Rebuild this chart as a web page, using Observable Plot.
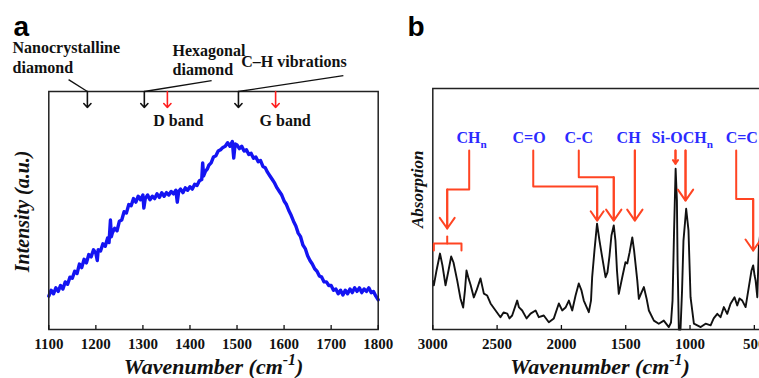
<!DOCTYPE html>
<html><head><meta charset="utf-8">
<script src="https://cdn.jsdelivr.net/npm/d3@7"></script>
<script src="https://cdn.jsdelivr.net/npm/@observablehq/plot@0.6"></script>
<style>
html,body{margin:0;padding:0;background:#fff;}
#wrap{position:relative;width:759px;height:378px;overflow:hidden;background:#fff;}
#pa,#pb{position:absolute;top:0;height:378px;}
#pa{left:0;width:400px;} #pb{left:400px;width:380px;}
#wrap svg{max-width:none !important;display:block;}
</style></head><body><div id="wrap"><div id="pa"></div><div id="pb"></div></div>
<script>
// ---- Panel a: Raman spectrum (wavenumber, intensity a.u.) ----
const ramanSpectrum = [
[1100,14.0],[1105,16.5],[1110,15.0],[1115,17.5],[1120,16.0],[1125,18.5],[1130,17.0],[1135,20.0],[1140,19.0],[1145,22.0],
[1150,21.5],[1155,24.5],[1160,23.5],[1165,27.5],[1170,26.0],[1175,29.5],[1180,28.0],[1185,31.5],[1190,30.5],[1195,33.5],
[1200,32.0],[1203,29.0],[1205,33.5],[1210,33.0],[1215,36.0],[1220,35.0],[1225,38.5],[1228,36.5],[1231,46.0],[1233,39.0],
[1235,40.5],[1240,42.5],[1245,41.5],[1250,45.5],[1255,46.0],[1260,49.5],[1265,49.0],[1270,52.5],[1275,52.0],[1280,55.0],
[1285,53.5],[1290,56.0],[1295,54.5],[1300,56.5],[1302,51.0],[1305,55.0],[1310,56.5],[1315,54.5],[1320,56.0],[1325,55.0],
[1330,57.0],[1335,55.5],[1340,57.5],[1345,56.0],[1350,57.5],[1355,56.5],[1360,58.0],[1365,57.0],[1370,58.5],[1373,53.5],
[1376,58.0],[1380,59.0],[1385,57.5],[1390,59.5],[1395,58.5],[1400,60.0],[1405,59.0],[1410,61.0],[1415,60.5],[1420,62.5],
[1425,63.0],[1427,70.0],[1429,64.5],[1433,66.5],[1437,67.5],[1440,69.0],[1445,70.0],[1450,72.5],[1455,73.0],[1460,75.0],
[1465,75.5],[1470,76.5],[1475,77.0],[1480,78.5],[1485,77.0],[1490,79.0],[1493,72.0],[1496,78.0],[1500,77.5],[1505,76.0],
[1510,77.0],[1515,75.0],[1520,75.5],[1525,73.5],[1530,74.0],[1535,72.0],[1540,72.5],[1545,70.5],[1550,71.0],[1555,68.5],
[1560,68.0],[1565,66.0],[1570,64.5],[1575,63.0],[1580,61.5],[1585,59.5],[1590,58.0],[1595,56.5],[1600,54.0],[1605,52.5],
[1610,50.0],[1615,48.0],[1620,45.5],[1625,43.5],[1630,40.5],[1635,39.0],[1640,35.5],[1645,34.0],[1650,31.0],[1655,29.0],
[1660,27.5],[1665,25.5],[1670,24.5],[1675,22.5],[1680,22.0],[1685,20.0],[1690,20.0],[1695,18.5],[1700,18.5],[1705,16.5],
[1710,17.0],[1715,15.0],[1720,16.5],[1725,14.5],[1730,16.5],[1735,15.0],[1740,17.0],[1745,15.5],[1750,17.5],[1755,16.0],
[1760,17.5],[1765,15.5],[1770,17.0],[1775,16.0],[1780,17.5],[1785,15.5],[1790,16.0],[1795,14.0],[1800,12.5]
];
const ramanTicks = [1100,1200,1300,1400,1500,1600,1700,1800];
// band markers (wavenumber) drawn as short arrows under the top frame
const ramanBlackMarkers = [1182, 1303, 1503];
const ramanRedMarkers = [1352, 1582];
// annotation labels: text, anchor wavenumber, anchor level (a.u.)
const ramanLabels = [
  {text:"Nanocrystalline", w:1023, a:116.0},
  {text:"diamond", w:1023, a:107.6},
  {text:"Hexagonal", w:1363, a:115.1},
  {text:"diamond", w:1363, a:107.1},
  {text:"C\u2013H vibrations", w:1509, a:110.1},
  {text:"D band", w:1322, a:85.7},
  {text:"G band", w:1548, a:85.7}
];
const ramanLeaders = [
  {w1:1142, a1:105.0, w2:1182, a2:100},
  {w1:1446, a1:104.6, w2:1303, a2:100},
  {w1:1726, a1:106.7, w2:1503, a2:100}
];

// ---- Panel b: FTIR absorption spectrum ----
const ftirSpectrum = [
[2995,20.0],[2992,18.3],[2971,24.5],[2944,31.5],[2925,26.6],[2901,18.3],[2878,24.5],[2857,30.3],[2839,27.8],[2810,20.3],
[2785,12.9],[2764,9.1],[2750,16.2],[2738,24.5],[2722,21.2],[2707,18.7],[2681,13.3],[2660,16.2],[2629,21.2],[2603,14.9],
[2577,14.1],[2551,10.8],[2512,7.9],[2474,5.1],[2450,7.1],[2421,6.6],[2404,4.6],[2383,5.8],[2344,12.0],[2331,9.3],
[2305,7.9],[2271,4.6],[2240,6.6],[2201,7.9],[2176,5.1],[2137,5.8],[2098,3.0],[2059,4.6],[2020,10.8],[1994,7.9],
[1968,9.1],[1942,12.0],[1916,7.9],[1890,14.1],[1865,19.1],[1844,16.2],[1826,12.0],[1787,7.2],[1770,12.0],[1761,21.7],
[1743,32.8],[1723,43.9],[1704,36.9],[1683,30.0],[1657,21.7],[1642,23.7],[1626,30.7],[1611,39.0],[1593,43.2],[1580,36.9],
[1568,24.5],[1554,14.8],[1540,18.3],[1527,21.7],[1502,27.9],[1488,27.4],[1470,32.0],[1449,38.2],[1435,32.8],[1410,20.3],
[1398,12.7],[1377,15.4],[1359,17.6],[1338,12.9],[1320,7.9],[1281,3.7],[1243,2.4],[1204,3.7],[1165,1.0],[1148,2.9],
[1136,12.0],[1124,41.1],[1112,66.7],[1102,53.5],[1097,28.6],[1087,0],[1074,0],[1062,16.2],[1051,36.9],[1030,50.1],
[1012,41.1],[996,13.4],[970,2.4],[917,1.0],[879,2.4],[840,1.7],[816,4.6],[788,6.5],[763,5.1],[737,9.3],
[711,6.5],[685,10.7],[654,13.4],[633,10.0],[615,12.9],[594,12.0],[568,9.3],[543,17.6],[522,24.5],[509,26.6],
[498,22.4],[490,20.3],[477,13.4],[465,34.1],[452,41.1],[436,47.3]
];
const ftirTicks = [3000,2500,2000,1500,1000,500];
// callouts: label text, text start wavenumber, leader path [wavenumber, absorption]
const ftirCallouts = [
  {label:"CH_{n}", tw:2816, path:[[2717,74.3],[2717,58.1],[2888,58.1],[2888,41.9]]},
  {label:"C=O", tw:2380, path:[[2219,74.3],[2219,59.3],[1722,59.3],[1722,45.2]]},
  {label:"C-C", tw:1976, path:[[1865,74.3],[1865,63.2],[1593,63.2],[1593,45.2]]},
  {label:"CH", tw:1571, path:[[1429,74.3],[1429,45.2]]},
  {label:"Si-OCH_{n}", tw:1299, path:[[1113,74.3],[1113,68.8]]},
  {label:null, tw:null, path:[[1035,74.3],[1035,53.5]]},
  {label:"C=C", tw:723, path:[[641,74.3],[641,54.2],[509,54.2],[509,32.8]]}
];
const ftirBracket = [
  [[2992,32.8],[2992,35.7],[2777,35.7],[2777,32.8]],
  [[2888,35.7],[2888,38.6]]
];
const labelLevel = 77.2;

const SERIF = "'Liberation Serif', 'Times New Roman', serif";
const SANS = "'Liberation Sans', Arial, sans-serif";
const RED_A = "#ff1d1d", RED_B = "#ff4422", BLUE_T = "#2b2bff", BLUE_L = "#1414f2";

const baseStyle = {fontFamily: SERIF, fontSize: "15px", fontWeight: "bold", color: "#111", background: "transparent", overflow: "visible", maxWidth: "none"};

function richText(svg) {
  d3.select(svg).selectAll("text").each(function() {
    const s = this.textContent;
    if (!/[_^]\{/.test(s)) return;
    const el = d3.select(this);
    const fs = parseFloat(getComputedStyle(this).fontSize) || 16;
    el.text(null);
    const re = /([_^])\{([^}]*)\}/g;
    let last = 0, m, off = 0;
    const add = (txt, kind) => {
      const t = el.append("tspan").text(txt);
      if (kind === "_") { const d = fs * 0.28; t.attr("dy", d - off).attr("font-size", fs * 0.7); off = d; }
      else if (kind === "^") { const d = -fs * 0.38; t.attr("dy", d - off).attr("font-size", fs * 0.72); off = d; }
      else { if (off) t.attr("dy", -off); off = 0; }
    };
    while ((m = re.exec(s))) {
      if (m.index > last) add(s.slice(last, m.index), null);
      add(m[2], m[1]);
      last = re.lastIndex;
    }
    if (last < s.length) add(s.slice(last), null);
  });
}

// ---------- Panel a ----------
const pa = Plot.plot({
  width: 400, height: 378,
  marginLeft: 48.3, marginRight: 22.3, marginTop: 91, marginBottom: 49,
  x: {domain: [1100, 1800]},
  y: {domain: [0, 100], axis: null},
  style: baseStyle,
  marks: [
    Plot.line(ramanSpectrum, {x: d => d[0], y: d => d[1], stroke: BLUE_L, strokeWidth: 3.4, strokeLinejoin: "round"}),
    Plot.frame({stroke: "#222", strokeWidth: 1.5}),
    Plot.axisX(ramanTicks, {tickSize: -4, tickPadding: 12.5, tickFormat: "d", label: null, strokeWidth: 1.3}),
    Plot.arrow(ramanBlackMarkers, {x1: d => d, x2: d => d, y1: () => 100, y2: () => 93.3, stroke: "#111", strokeWidth: 1.6, headLength: 7, headAngle: 85}),
    Plot.arrow(ramanRedMarkers, {x1: d => d, x2: d => d, y1: () => 100, y2: () => 93.3, stroke: RED_A, strokeWidth: 1.6, headLength: 7, headAngle: 85}),
    Plot.link(ramanLeaders, {x1: "w1", y1: "a1", x2: "w2", y2: "a2", stroke: "#111", strokeWidth: 1.3}),
    Plot.text(ramanLabels, {x: "w", y: "a", text: "text", textAnchor: "start", lineAnchor: "bottom", fontFamily: SERIF, fontWeight: "bold", fontSize: 16, fill: "#111"}),
    Plot.text(["Wavenumber (cm^{-1})"], {frameAnchor: "bottom", dy: 44, lineAnchor: "bottom", fontFamily: SERIF, fontWeight: "bold", fontStyle: "italic", fontSize: 22, fill: "#111"}),
    Plot.text(["Intensity (a.u.)"], {frameAnchor: "top-left", dx: -26.3, dy: 59, rotate: -90, textAnchor: "end", lineAnchor: "middle", fontFamily: SERIF, fontWeight: "bold", fontStyle: "italic", fontSize: 20, fill: "#111"}),
    Plot.text(["a"], {frameAnchor: "top-left", dx: -35.3, dy: -56, textAnchor: "start", lineAnchor: "bottom", fontFamily: SANS, fontWeight: "bold", fontSize: 28, fill: "#000"})
  ]
});
document.getElementById("pa").append(pa);
richText(pa);

// ---------- Panel b ----------
const calloutLines = ftirCallouts.flatMap((c, i) => c.path.map(p => ({w: p[0], a: p[1], k: i})));
const calloutHeads = ftirCallouts.map(c => { const n = c.path.length; return {w1: c.path[n-2][0], a1: c.path[n-2][1], w2: c.path[n-1][0], a2: c.path[n-1][1]}; });
const bracketLines = ftirBracket.flatMap((seg, i) => seg.map(p => ({w: p[0], a: p[1], k: i})));
const calloutLabels = ftirCallouts.filter(c => c.label);

const pb = Plot.plot({
  width: 380, height: 378,
  marginLeft: 32.3, marginRight: 13.3, marginTop: 88, marginBottom: 49,
  x: {domain: [3000, 400]},
  y: {domain: [0, 100], axis: null},
  style: baseStyle,
  marks: [
    Plot.line(ftirSpectrum, {x: d => d[0], y: d => d[1], stroke: "#111", strokeWidth: 1.9, strokeLinejoin: "round"}),
    Plot.frame({stroke: "#222", strokeWidth: 1.5}),
    Plot.axisX(ftirTicks, {tickSize: -4, tickPadding: 12.5, tickFormat: "d", label: null, strokeWidth: 1.3}),
    Plot.line(calloutLines, {x: "w", y: "a", z: "k", stroke: RED_B, strokeWidth: 2}),
    Plot.arrow(calloutHeads, {x1: "w1", y1: "a1", x2: "w2", y2: "a2", stroke: RED_B, strokeWidth: 2, headLength: 10, headAngle: 70}),
    Plot.line(bracketLines, {x: "w", y: "a", z: "k", stroke: RED_B, strokeWidth: 2}),
    Plot.text(calloutLabels, {x: "tw", y: () => labelLevel, text: "label", textAnchor: "start", lineAnchor: "bottom", fontFamily: SERIF, fontWeight: "bold", fontSize: 16, fill: BLUE_T}),
    Plot.text(["Wavenumber (cm^{-1})"], {frameAnchor: "bottom", dy: 44, lineAnchor: "bottom", fontFamily: SERIF, fontWeight: "bold", fontStyle: "italic", fontSize: 22, fill: "#111"}),
    Plot.text(["Absorption"], {frameAnchor: "top-left", dx: -15.3, dy: 62, rotate: -90, textAnchor: "end", lineAnchor: "middle", fontFamily: SERIF, fontWeight: "bold", fontStyle: "italic", fontSize: 17, fill: "#111"}),
    Plot.text(["b"], {frameAnchor: "top-left", dx: -25.3, dy: -53, textAnchor: "start", lineAnchor: "bottom", fontFamily: SANS, fontWeight: "bold", fontSize: 28, fill: "#000"})
  ]
});
document.getElementById("pb").append(pb);
richText(pb);
</script>
</body></html>
